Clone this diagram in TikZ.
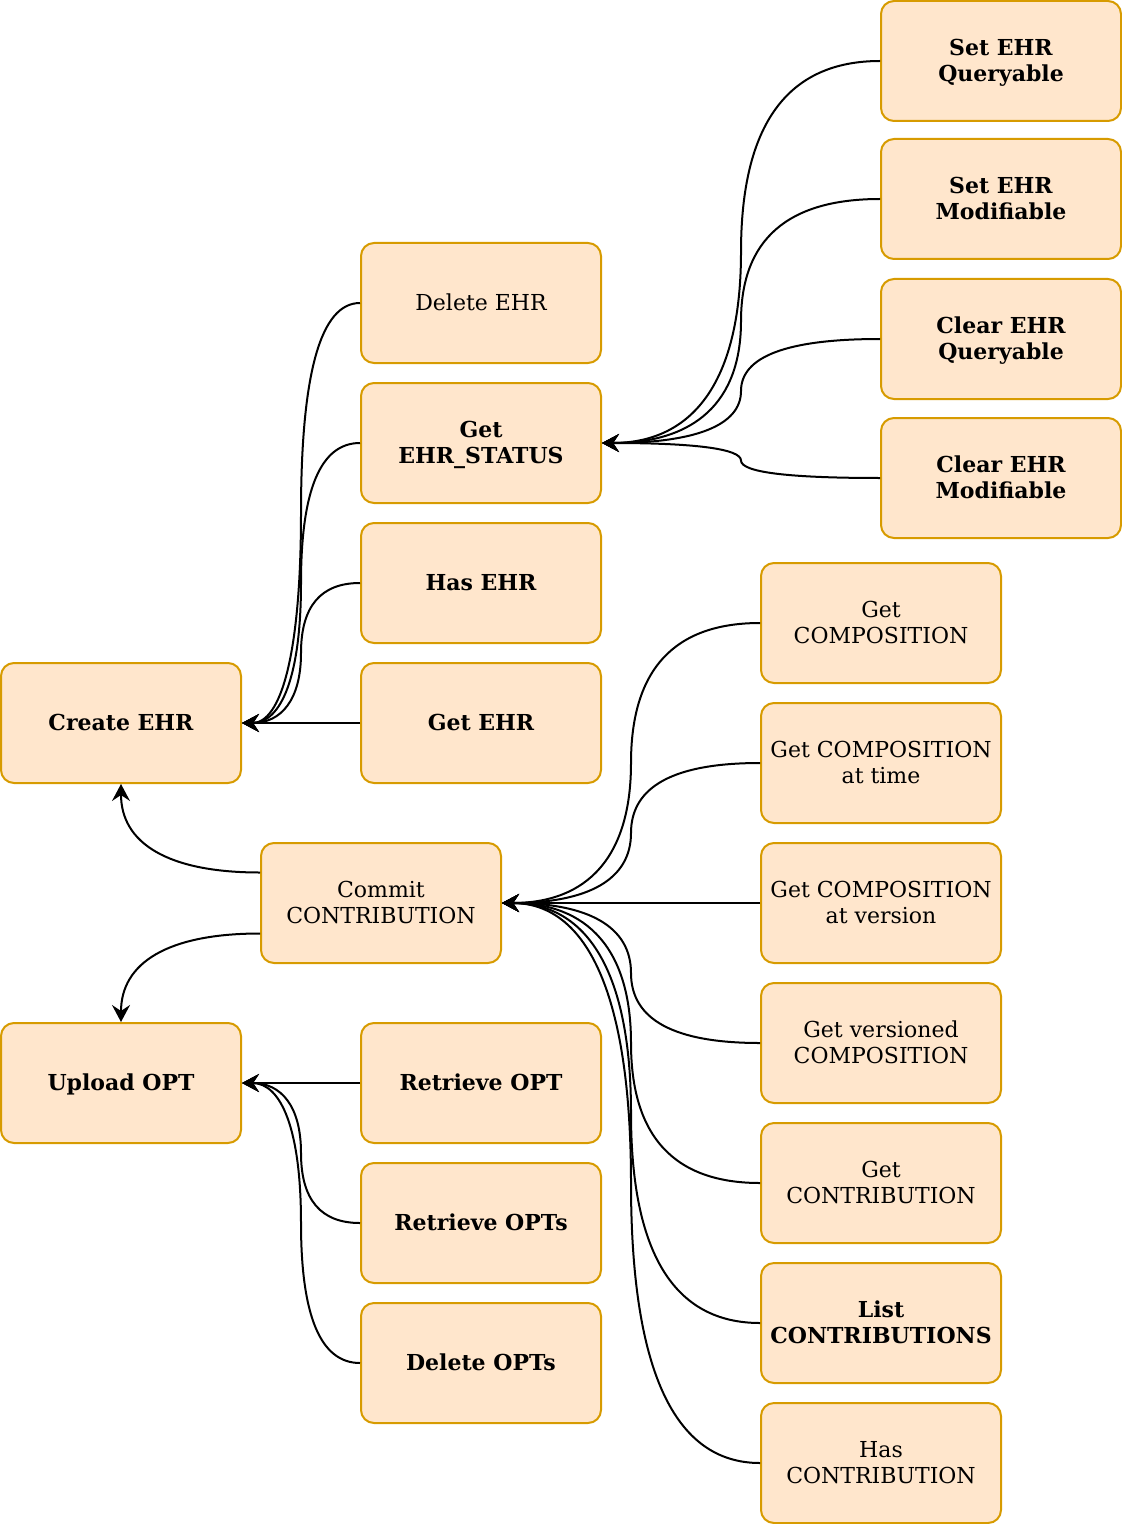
\documentclass[tikz,border=0pt]{standalone}
\usepackage{fontspec}
\setmainfont{DejaVu Serif}
\usetikzlibrary{calc,arrows.meta}
\definecolor{boxfill}{HTML}{FFE6CC}
\definecolor{boxline}{HTML}{D79B00}
\newcommand\dstrut{\rule[-0.27em]{0pt}{1.2em}}
\newcommand\twolines[2]{\dstrut#1\\#2\dstrut}
\newcommand\oneline[1]{\dstrut#1\dstrut}
\newcommand\hvhcurve[2]{%
  \coordinate (hvhM) at ($(#1)!0.5!(#2)$);
  \coordinate (hvhA) at (#1 -| hvhM);
  \coordinate (hvhB) at (#2 -| hvhM);
  \draw[conn] (#1) .. controls ($(#1)!2/3!(hvhA)$) and ($(hvhM)!2/3!(hvhA)$) .. (hvhM)
     .. controls ($(hvhM)!2/3!(hvhB)$) and ($(#2)!2/3!(hvhB)$) .. (#2);}
\newcommand\hvcurve[2]{%
  \coordinate (hvC) at (#1 -| #2);
  \draw[conn] (#1) .. controls ($(#1)!2/3!(hvC)$) and ($(#2)!2/3!(hvC)$) .. (#2);}
\begin{document}
\begin{tikzpicture}[x=0.5pt,y=-0.5pt,
  box/.style={draw=boxline, fill=boxfill, line width=1pt, rounded corners=6.5pt,
    minimum width=120pt, minimum height=60pt, align=center, inner sep=0pt,
    text=black, font=\fontsize{11pt}{13.2pt}\selectfont},
  bbox/.style={box, font=\fontsize{11pt}{13.2pt}\selectfont\bfseries},
  conn/.style={line width=1pt, draw=black, -{Stealth[length=8.5pt,width=9pt,inset=3pt]}}]
\useasboundingbox (0,0) rectangle (1122,1524);
% right column (EHR status)
\node[bbox] (sq) at (1001,61) {\twolines{Set EHR}{Queryable}};
\node[bbox] (sm) at (1001,199) {\twolines{Set EHR}{Modifiable}};
\node[bbox] (cq) at (1001,339) {\twolines{Clear EHR}{Queryable}};
\node[bbox] (cm) at (1001,478) {\twolines{Clear EHR}{Modifiable}};
% middle EHR column
\node[box] (del) at (481,303) {\oneline{Delete EHR}};
\node[bbox] (ges) at (481,443) {\twolines{Get}{EHR\_STATUS}};
\node[bbox] (has) at (481,583) {\oneline{Has EHR}};
\node[bbox] (gehr) at (481,723) {\oneline{Get EHR}};
\node[bbox] (ce) at (121,723) {\oneline{Create EHR}};
% composition column
\node[box] (gc) at (881,623) {\twolines{Get}{COMPOSITION}};
\node[box] (gct) at (881,763) {\twolines{Get COMPOSITION}{at time}};
\node[box] (gcv) at (881,903) {\twolines{Get COMPOSITION}{at version}};
\node[box] (gvc) at (881,1043) {\twolines{Get versioned}{COMPOSITION}};
\node[box] (gcon) at (881,1183) {\twolines{Get}{CONTRIBUTION}};
\node[bbox] (lc) at (881,1323) {\twolines{List}{CONTRIBUTIONS}};
\node[box] (hc) at (881,1463) {\twolines{Has}{CONTRIBUTION}};
\node[box] (commit) at (381,903) {\twolines{Commit}{CONTRIBUTION}};
% OPT
\node[bbox] (uo) at (121,1083) {\oneline{Upload OPT}};
\node[bbox] (ro) at (481,1083) {\oneline{Retrieve OPT}};
\node[bbox] (ros) at (481,1223) {\oneline{Retrieve OPTs}};
\node[bbox] (dos) at (481,1363) {\oneline{Delete OPTs}};
% connectors
\hvhcurve{sq.west}{ges.east}
\hvhcurve{sm.west}{ges.east}
\hvhcurve{cq.west}{ges.east}
\hvhcurve{cm.west}{ges.east}
\hvhcurve{del.west}{ce.east}
\hvhcurve{ges.west}{ce.east}
\hvhcurve{has.west}{ce.east}
\hvhcurve{gehr.west}{ce.east}
\hvhcurve{gc.west}{commit.east}
\hvhcurve{gct.west}{commit.east}
\hvhcurve{gcv.west}{commit.east}
\hvhcurve{gvc.west}{commit.east}
\hvhcurve{gcon.west}{commit.east}
\hvhcurve{lc.west}{commit.east}
\hvhcurve{hc.west}{commit.east}
\hvhcurve{ro.west}{uo.east}
\hvhcurve{ros.west}{uo.east}
\hvhcurve{dos.west}{uo.east}
\coordinate (cu) at ($(commit.north west)!0.5!(commit.west)$);
\coordinate (cd) at ($(commit.south west)!0.5!(commit.west)$);
\hvcurve{cu}{ce.south}
\hvcurve{cd}{uo.north}
\end{tikzpicture}
\end{document}
